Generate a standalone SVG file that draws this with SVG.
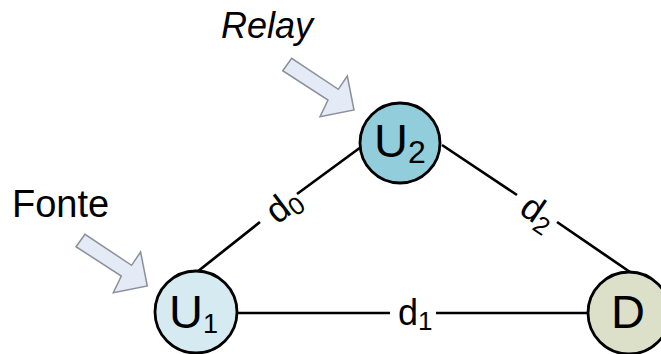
<svg xmlns="http://www.w3.org/2000/svg" width="661" height="354" viewBox="0 0 661 354">
<style>
  text { font-family: "Liberation Sans", Arial, sans-serif; fill: #000; }
  .node { stroke: #000; stroke-width: 2.8; }
  .edge { stroke: #000; stroke-width: 2.7; fill: none; }
  .barrow { fill: #e4eaf6; stroke: #8c9099; stroke-width: 1.5; stroke-linejoin: miter; }
  .big { font-size: 47px; }
  .lbl { font-size: 36px; }
</style>
<defs>
  <polygon id="blockArrow" points="-62.3,-51.7 -71.3,-39.3 -26,-10 -34,6.7 0,0 -6.7,-34 -15.7,-20.7"/>
</defs>

<g id="connectors">
  <path class="edge" d="M197,272 L260,222 M297,194 L361,147"/>
  <path class="edge" d="M442,145 L517,195 M557,222 L630,272"/>
  <path class="edge" d="M236,313 L390,313 M436,313 L588,313"/>
</g>

<g id="label-d0" transform="translate(284,206) rotate(-37)">
  <text class="lbl" x="0" y="11" text-anchor="middle">d<tspan font-size="25" dy="5">0</tspan></text>
</g>
<g id="label-d2" transform="translate(538,213) rotate(34)">
  <text class="lbl" x="0" y="11" text-anchor="middle">d<tspan font-size="25" dy="6">2</tspan></text>
</g>
<g id="label-d1">
  <text class="lbl" x="398" y="325">d<tspan font-size="26" dy="5">1</tspan></text>
</g>

<g id="relay-label">
  <text x="221" y="38" font-size="36" font-style="italic">Relay</text>
</g>
<g id="relay-arrow">
  <use href="#blockArrow" class="barrow" transform="translate(354,110)"/>
</g>

<g id="fonte-label">
  <text x="12" y="217" font-size="38">Fonte</text>
</g>
<g id="fonte-arrow">
  <use href="#blockArrow" class="barrow" transform="translate(147.3,286)"/>
</g>

<g id="node-U2">
  <circle class="node" cx="400" cy="143" r="40" fill="#92cddc"/>
  <text class="big" x="374" y="157">U<tspan font-size="32" dy="6">2</tspan></text>
</g>
<g id="node-U1">
  <circle class="node" cx="196" cy="312" r="41" fill="#d5ebf1"/>
  <text class="big" x="169" y="328">U<tspan font-size="27" dy="5">1</tspan></text>
</g>
<g id="node-D">
  <circle class="node" cx="629" cy="313" r="41" fill="#dde0c8"/>
  <text class="big" x="611" y="328">D</text>
</g>
</svg>
